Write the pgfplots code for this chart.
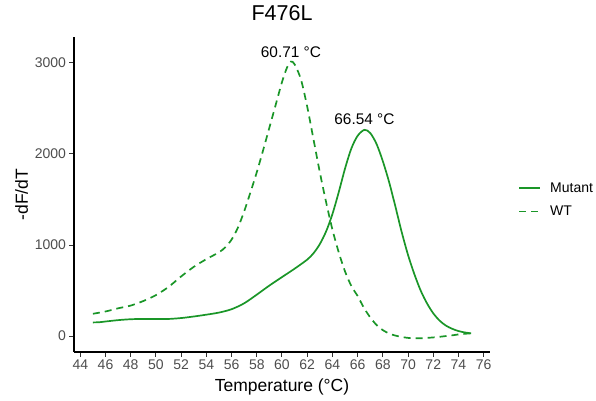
\documentclass[border=0pt]{standalone}
\usepackage{fontspec}
\setmainfont{Liberation Sans}
\usepackage{pgfplots}
\pgfplotsset{compat=1.18}
\definecolor{lc}{RGB}{26,150,40}
\definecolor{tl}{RGB}{77,77,77}
\begin{document}
\begin{tikzpicture}
\begin{axis}[
  at={(0,0)}, anchor=south west,
  scale only axis, width=416bp, height=315bp,
  xmin=43.5, xmax=76.5, ymin=-175, ymax=3285,
  xtick={44,46,...,76}, ytick={0,1000,2000,3000},
  axis lines*=left,
  axis line style={-, black, line width=1.1bp},
  tick align=outside, major tick length=4.5bp,
  tick style={color=black!80, line width=1bp},
  ticklabel style={font=\fontsize{14bp}{16bp}\selectfont, text=tl},
  /pgf/number format/assume math mode=true,
  /pgf/number format/1000 sep={},
  title={F476L},
  title style={at={([yshift=11bp]rel axis cs:0.5,1)}, anchor=base, font=\fontsize{21.5bp}{24bp}\selectfont},
  xlabel={Temperature (°C)},
  xlabel style={at={([yshift=-39bp]rel axis cs:0.5,0)}, anchor=base, font=\fontsize{17.5bp}{20bp}\selectfont},
  ylabel={-dF/dT},
  ylabel style={at={([xshift=-46bp]rel axis cs:0,0.5)}, anchor=base, font=\fontsize{17.5bp}{20bp}\selectfont},
  legend style={at={(rel axis cs:1.068,0.483)}, anchor=west, draw=none, fill=none, inner sep=0pt,
    font=\fontsize{14bp}{16bp}\selectfont, row sep=8bp},
  legend cell align=left,
  legend image code/.code={\draw[#1, lc, line width=1.7bp] (0bp,0bp) -- (21bp,0bp);},
]
\addplot[lc, line width=1.7bp, smooth] coordinates {
(45.0,150) (45.5,152) (46,160) (47,175) (48,185) (49,188) (50,187) (51,188) (52,198) (53,215)
(54,235) (55,258) (56,295) (57,360) (58,455) (59,555) (60,648) (61,740) (62,840) (62.5,910)
(63,1010) (63.5,1150) (64,1340) (64.5,1580) (65,1840) (65.5,2060) (66,2200) (66.54,2265)
(67,2230) (67.5,2110) (68,1920) (68.5,1690) (69,1420) (69.5,1140) (70,890) (70.5,680)
(71,500) (71.5,360) (72,250) (72.5,170) (73,115) (73.5,80) (74,55) (74.5,40) (75,30)
};
\addlegendentry{\hspace{7bp}Mutant}
\addplot[lc, line width=1.7bp, smooth, dash pattern=on 7bp off 5bp] coordinates {
(45,245) (46,270) (47,305) (48,335) (49,385) (50,450) (51,540) (52,655) (53,760) (54,845)
(55,920) (55.5,975) (56,1060) (56.5,1190) (57,1370) (57.5,1580) (58,1800) (58.5,2040)
(59,2290) (59.5,2540) (60,2790) (60.4,2950) (60.71,3015) (61,2985) (61.5,2820) (62,2520)
(62.5,2160) (63,1800) (63.5,1470) (64,1170) (64.5,920) (65,710) (65.5,550) (66,440)
(66.5,310) (67,205) (67.5,122) (68,65) (68.5,28) (69,5) (69.5,-10) (70,-20) (70.5,-25)
(71,-24) (71.5,-20) (72,-15) (72.5,-8) (73,0) (73.5,8) (74,18) (74.5,25) (75,30)
};
\addlegendentry{\hspace{7bp}WT}
\node[anchor=base, font=\fontsize{15.4bp}{18bp}\selectfont] at (axis cs:60.71,3063) {60.71 °C};
\node[anchor=base, font=\fontsize{15.4bp}{18bp}\selectfont] at (axis cs:66.54,2319) {66.54 °C};
\end{axis}
\pgfresetboundingbox
\path[use as bounding box] (-74bp,-49bp) rectangle (522bp,352bp);
\end{tikzpicture}
\end{document}
